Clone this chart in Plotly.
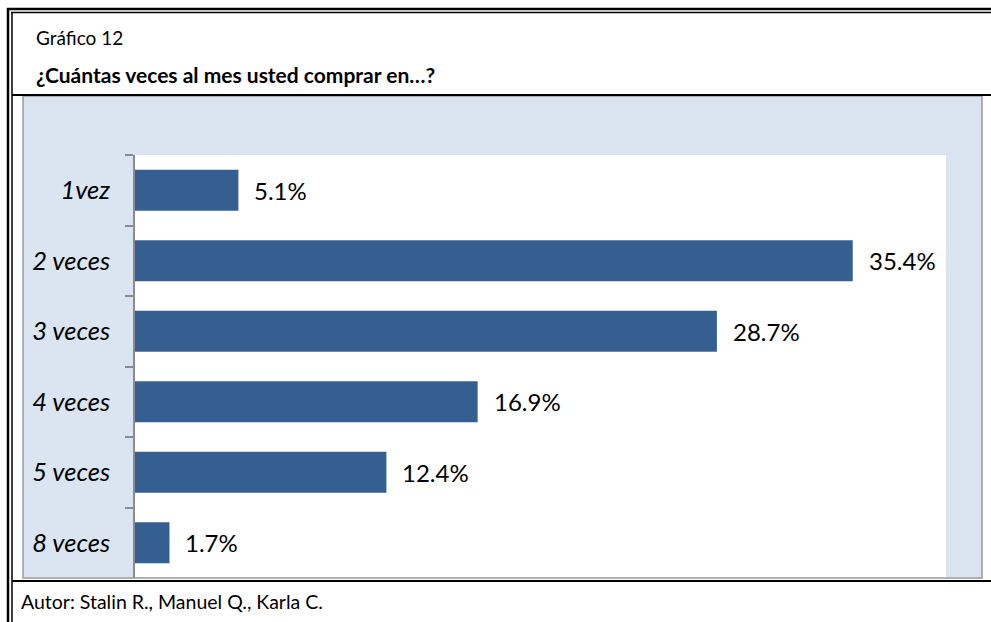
import plotly.graph_objects as go

categories = ["1vez", "2 veces", "3 veces", "4 veces", "5 veces", "8 veces"]
values = [5.1, 35.4, 28.7, 16.9, 12.4, 1.7]
labels = ["5.1%", "35.4%", "28.7%", "16.9%", "12.4%", "1.7%"]

title_small = "Gráfico 12"
title_bold = "¿Cuántas veces al mes usted comprar en…?"
footer = "Autor: Stalin R., Manuel Q., Karla C."

W, H = 991, 622
L, R, T, B = 135, 45, 155, 44
PW, PH = W - L - R, H - T - B

def px(x):
    return (x - L) / PW

def py(y):
    return (H - B - y) / PH

FONT = "Lato"
BAR = "#365F91"

fig = go.Figure()
fig.add_trace(go.Bar(
    x=values, y=categories, orientation="h",
    marker=dict(color=BAR, line=dict(width=0)),
    hoverinfo="skip",
))

for v, c, t in zip(values, categories, labels):
    fig.add_annotation(x=v, y=c, xref="x", yref="y", text=t, showarrow=False,
                       xanchor="left", yanchor="middle", xshift=14,
                       font=dict(family=FONT, size=24, color="#000000"))

shapes = []
# chart area (light blue) and plot area (white)
shapes.append(dict(type="rect", xref="paper", yref="paper", layer="below",
                   x0=px(23), x1=px(982), y0=py(578), y1=py(96),
                   fillcolor="#DBE5F1", line=dict(color="#9A9A9A", width=1.5)))
shapes.append(dict(type="rect", xref="paper", yref="paper", layer="below",
                   x0=px(135), x1=px(946), y0=py(577), y1=py(155),
                   fillcolor="#FFFFFF", line=dict(width=0)))
# table borders
black = "#000000"
shapes.append(dict(type="line", xref="paper", yref="paper", x0=px(8), x1=px(8), y0=py(8), y1=py(640), line=dict(color=black, width=2.5)))
shapes.append(dict(type="line", xref="paper", yref="paper", x0=px(12), x1=px(12), y0=py(12), y1=py(640), line=dict(color=black, width=1.5)))
shapes.append(dict(type="line", xref="paper", yref="paper", x0=px(7), x1=px(1000), y0=py(9), y1=py(9), line=dict(color=black, width=2.5)))
shapes.append(dict(type="line", xref="paper", yref="paper", x0=px(11), x1=px(1000), y0=py(12.5), y1=py(12.5), line=dict(color=black, width=1.5)))
shapes.append(dict(type="line", xref="paper", yref="paper", x0=px(12), x1=px(1000), y0=py(95), y1=py(95), line=dict(color=black, width=2)))
shapes.append(dict(type="line", xref="paper", yref="paper", x0=px(12), x1=px(1000), y0=py(581), y1=py(581), line=dict(color=black, width=2)))

fig.add_annotation(xref="paper", yref="paper", x=px(34), y=py(38), text=title_small, showarrow=False,
                   xanchor="left", yanchor="middle", font=dict(family=FONT, size=19, color=black))
fig.add_annotation(xref="paper", yref="paper", x=px(34), y=py(75), text="<b>" + title_bold + "</b>", showarrow=False,
                   xanchor="left", yanchor="middle", font=dict(family=FONT, size=21, color=black))
fig.add_annotation(xref="paper", yref="paper", x=px(19), y=py(601), text=footer, showarrow=False,
                   xanchor="left", yanchor="middle", font=dict(family=FONT, size=19.5, color=black))

fig.update_layout(
    width=W, height=H,
    margin=dict(l=L, r=R, t=T, b=B, pad=0),
    paper_bgcolor="#FFFFFF",
    plot_bgcolor="rgba(0,0,0,0)",
    bargap=0.42,
    showlegend=False,
    shapes=shapes,
    xaxis=dict(range=[0, 40], visible=False, fixedrange=True),
    yaxis=dict(
        type="category", categoryorder="array", categoryarray=categories,
        autorange="reversed",
        showline=True, linecolor="#8C8C8C", linewidth=1.5,
        ticks="outside", tickson="boundaries", ticklen=8, tickcolor="#8C8C8C", tickwidth=1.5,
        ticklabelstandoff=18,
        tickfont=dict(family=FONT, size=25.5, color=black, style="italic"),
        showgrid=False, zeroline=False, fixedrange=True,
    ),
)

fig.write_html("out.html")
